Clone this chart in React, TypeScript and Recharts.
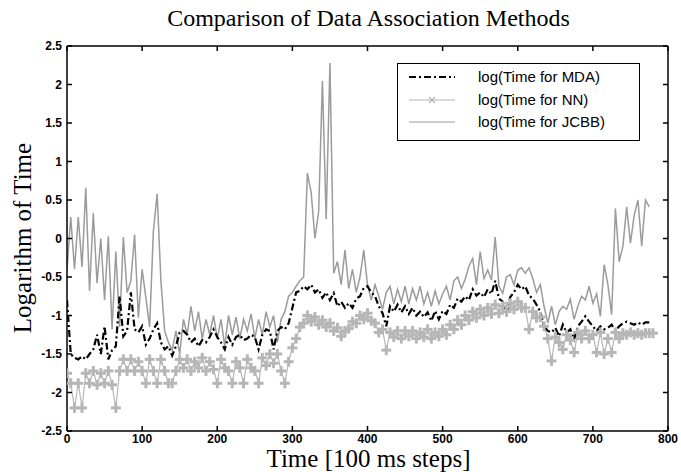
import React from 'react';
import { LineChart, Line, XAxis, YAxis } from 'recharts';

// time steps (100 ms each), sampled every 5 steps
const steps: number[] = [
  0, 5, 10, 15, 20, 25, 30, 35, 40, 45, 50, 55, 60, 65, 70, 75, 80, 85, 90, 95,
  100, 105, 110, 115, 120, 125, 130, 135, 140, 145, 150, 155, 160, 165, 170, 175, 180, 185, 190, 195,
  200, 205, 210, 215, 220, 225, 230, 235, 240, 245, 250, 255, 260, 265, 270, 275, 280, 285, 290, 295,
  300, 305, 310, 315, 320, 325, 330, 335, 340, 345, 350, 355, 360, 365, 370, 375, 380, 385, 390, 395,
  400, 405, 410, 415, 420, 425, 430, 435, 440, 445, 450, 455, 460, 465, 470, 475, 480, 485, 490, 495,
  500, 505, 510, 515, 520, 525, 530, 535, 540, 545, 550, 555, 560, 565, 570, 575, 580, 585, 590, 595,
  600, 605, 610, 615, 620, 625, 630, 635, 640, 645, 650, 655, 660, 665, 670, 675, 680, 685, 690, 695,
  700, 705, 710, 715, 720, 725, 730, 735, 740, 745, 750, 755, 760, 765, 770, 775, 780,
];

const logMDA: (number | null)[] = [
  -0.8, -1.5, -1.55, -1.57, -1.53, -1.57, -1.5, -1.44, -1.25, -1.5, -1.14, -1.57, -1.45, -1.4, -0.75, -1.27, -1.2, -0.7, -1.18, -1.22,
  -1.14, -1.38, -1.3, -1.18, -1.1, -1.35, -1.44, -1.4, -1.52, -1.4, -1.22, -1.2, -1.25, -1.35, -1.3, -1.4, -1.32, -1.35, -1.28, -1.18,
  -1.28, -1.35, -1.44, -1.28, -1.38, -1.28, -1.25, -1.32, -1.3, -1.25, -1.28, -1.44, -1.25, -1.18, -1.2, -1.44, -1.2, -1.15, -1.18, -1.1,
  -0.9, -0.7, -0.68, -0.62, -0.66, -0.6, -0.7, -0.66, -0.77, -0.7, -0.8, -0.71, -0.88, -0.82, -0.9, -0.84, -0.9, -0.78, -0.75, -0.64,
  -0.62, -0.7, -0.75, -0.88, -0.97, -1.14, -0.88, -0.95, -0.86, -0.96, -0.88, -0.98, -0.9, -1.0, -0.95, -1.02, -0.96, -1.07, -0.94, -1.05,
  -0.94, -0.98, -0.86, -0.9, -0.78, -0.82, -0.75, -0.8, -0.66, -0.74, -0.7, -0.76, -0.66, -0.72, -0.55, -0.78, -0.82, -0.97, -0.76, -0.7,
  -0.6, -0.66, -0.62, -0.74, -0.78, -0.86, -0.95, -1.14, -1.2, -1.22, -1.16, -1.27, -1.12, -1.22, -1.18, -1.31, -1.14, -1.08, -1.01, -1.08,
  -1.14, -1.2, -1.14, -1.18, -1.16, -1.12, -1.2, -1.14, -1.1, -1.08, -1.1, -1.12, -1.09, -1.12, -1.09, -1.09, null,
];

const logNN: number[] = [
  -1.75, -1.88, -2.2, -1.88, -2.2, -1.75, -1.88, -1.72, -1.9, -1.75, -1.88, -1.72, -1.9, -2.2, -1.72, -1.57, -1.72, -1.57, -1.72, -1.6,
  -1.72, -1.88, -1.57, -1.72, -1.88, -1.57, -1.72, -1.88, -1.88, -1.72, -1.57, -1.68, -1.57, -1.72, -1.6, -1.68, -1.55, -1.72, -1.6, -1.7,
  -1.88, -1.57, -1.68, -1.72, -1.88, -1.6, -1.68, -1.88, -1.57, -1.68, -1.72, -1.88, -1.55, -1.65, -1.5, -1.62, -1.5, -1.72, -1.88, -1.6,
  -1.42, -1.3, -1.15, -1.1, -1.0, -1.08, -1.02, -1.12, -1.06, -1.15, -1.1, -1.2, -1.16, -1.27, -1.2, -1.17, -1.08, -1.1, -1.0, -1.05,
  -0.97, -1.07, -1.1, -1.22, -1.18, -1.45, -1.22, -1.28, -1.2, -1.3, -1.2, -1.27, -1.2, -1.3, -1.22, -1.28, -1.18, -1.3, -1.22, -1.27,
  -1.18, -1.25, -1.12, -1.18, -1.06, -1.12, -1.0, -1.06, -0.95, -1.03, -0.92, -1.0, -0.9, -0.98, -0.86, -0.97, -0.88, -0.95, -0.84, -0.92,
  -0.82, -0.9, -0.9, -1.18, -0.95, -1.03, -1.02, -1.14, -1.3, -1.59, -1.28, -1.35, -1.44, -1.25, -1.32, -1.48, -1.22, -1.3, -1.2, -1.3,
  -1.25, -1.48, -1.22, -1.5, -1.3, -1.48, -1.22, -1.3, -1.23, -1.25, -1.22, -1.25, -1.23, -1.25, -1.23, -1.23, -1.23,
];

const logJCBB: (number | null)[] = [
  -0.4, 0.28, -0.4, 0.28, -0.37, 0.66, -0.68, 0.33, -0.58, 0.0, -0.8, 0.03, -1.18, -0.17, -1.15, 0.02, -0.7, -0.55, 0.05, -1.03,
  -0.4, -0.77, -1.15, 0.1, 0.58, -0.55, -1.2, -1.35, -1.45, -1.2, -1.5, -1.05, -1.25, -0.88, -1.2, -0.95, -1.3, -1.05, -1.25, -1.0,
  -1.3, -1.05, -1.4, -1.0, -1.25, -1.02, -1.3, -1.05, -1.2, -0.98, -1.3, -1.05, -1.25, -0.95, -1.15, -1.0, -1.35, -1.05, -0.95, -0.75,
  -0.7, -0.62, -0.55, -0.5, 0.85, 0.6, 0.0, 0.35, 2.05, 0.25, 2.28, -0.45, -0.3, -0.6, -0.15, -0.65, -0.4, -0.7, -0.5, -0.15,
  -0.6, -0.8, -0.6, -0.75, -0.92, -0.7, -0.62, -0.85, -0.66, -0.82, -0.62, -0.85, -0.65, -0.8, -0.62, -0.85, -0.7, -0.88, -0.68, -0.85,
  -0.72, -0.62, -0.8, -0.55, -0.5, -0.65, -0.53, -0.36, -0.26, -0.6, -0.17, -0.52, -0.41, -0.54, 0.02, -0.62, -0.71, -0.5, -0.47, -0.6,
  -0.41, -0.38, -0.45, -0.38, -0.52, -0.7, -0.6, -0.88, -1.1, -0.88, -1.12, -0.95, -0.88, -0.92, -0.79, -1.05, -0.88, -0.75, -0.8, -0.62,
  -0.84, -0.72, -1.01, -0.34, -0.6, -0.99, 0.39, -0.3, -0.1, 0.41, -0.06, 0.3, 0.5, -0.1, 0.5, 0.41, null,
];

const xTicks = [0, 100, 200, 300, 400, 500, 600, 700, 800];
const yTicks = [-2.5, -2, -1.5, -1, -0.5, 0, 0.5, 1, 1.5, 2, 2.5];

const chartData = steps.map((x, i) => ({
  x,
  mda: logMDA[i],
  nn: logNN[i],
  jcbb: logJCBB[i],
}));

const serif = '"Liberation Serif", "Times New Roman", serif';
const sans = '"Liberation Sans", Arial, sans-serif';

const TickBottom = (props: any) => {
  const { x, y, payload } = props;
  return (
    <g>
      <line x1={x} y1={y} x2={x} y2={y - 5} stroke="#000" strokeWidth={1.5} />
      <text x={x} y={y + 12} textAnchor="middle" fontFamily={sans} fontWeight="bold" fontSize={12} fill="#000">
        {payload.value}
      </text>
    </g>
  );
};

const TickTop = (props: any) => {
  const { x, y } = props;
  return <line x1={x} y1={y} x2={x} y2={y + 5} stroke="#000" strokeWidth={1.5} />;
};

const TickLeft = (props: any) => {
  const { x, y, payload } = props;
  return (
    <g>
      <line x1={x} y1={y} x2={x + 5} y2={y} stroke="#000" strokeWidth={1.5} />
      <text x={x - 5} y={y + 4} textAnchor="end" fontFamily={sans} fontWeight="bold" fontSize={12} fill="#000">
        {payload.value}
      </text>
    </g>
  );
};

const TickRight = (props: any) => {
  const { x, y } = props;
  return <line x1={x} y1={y} x2={x - 5} y2={y} stroke="#000" strokeWidth={1.5} />;
};

// NN samples are drawn with thick plus markers
const PlusDot = (props: any) => {
  const { cx, cy, index } = props;
  if (cx == null || cy == null) return null;
  return (
    <g key={`nn-${index}`}>
      <line x1={cx - 5} y1={cy} x2={cx + 5} y2={cy} stroke="#b6b6b6" strokeWidth={3} />
      <line x1={cx} y1={cy - 5} x2={cx} y2={cy + 5} stroke="#b6b6b6" strokeWidth={3} />
    </g>
  );
};

const legendRows = [
  { label: 'log(Time for MDA)', kind: 'mda' },
  { label: 'log(Time for NN)', kind: 'nn' },
  { label: 'log(Time for JCBB)', kind: 'jcbb' },
];

function LegendBox() {
  return (
    <div
      style={{
        position: 'absolute',
        left: 397,
        top: 63,
        width: 243,
        height: 78,
        border: '1.5px solid #000',
        background: '#fff',
        boxSizing: 'border-box',
      }}
    >
      {legendRows.map((r, i) => (
        <div key={r.kind} style={{ position: 'absolute', left: 0, top: 3 + i * 22.5, height: 20, width: '100%' }}>
          <svg width={60} height={20} style={{ position: 'absolute', left: 9, top: 0 }}>
            {r.kind === 'mda' && (
              <line x1={2} y1={10} x2={48} y2={10} stroke="#000" strokeWidth={2} strokeDasharray="7 3 2 3" />
            )}
            {r.kind === 'nn' && (
              <g>
                <line x1={2} y1={10} x2={48} y2={10} stroke="#b4b4b4" strokeWidth={1.2} />
                <line x1={22} y1={7} x2={28} y2={13} stroke="#b4b4b4" strokeWidth={1.2} />
                <line x1={22} y1={13} x2={28} y2={7} stroke="#b4b4b4" strokeWidth={1.2} />
              </g>
            )}
            {r.kind === 'jcbb' && <line x1={2} y1={10} x2={48} y2={10} stroke="#9b9b9b" strokeWidth={1.2} />}
          </svg>
          <span
            style={{
              position: 'absolute',
              left: 80,
              top: 0,
              fontFamily: sans,
              fontSize: 15,
              lineHeight: '20px',
              color: '#000',
              whiteSpace: 'nowrap',
            }}
          >
            {r.label}
          </span>
        </div>
      ))}
    </div>
  );
}

export default function App() {
  return (
    <div style={{ position: 'absolute', left: 0, top: 0, width: 681, height: 472, background: '#fff' }}>
      <div
        style={{
          position: 'absolute',
          left: 68,
          width: 601,
          top: 5,
          textAlign: 'center',
          fontFamily: serif,
          fontSize: 24,
          lineHeight: '26px',
          color: '#000',
        }}
      >
        Comparison of Data Association Methods
      </div>
      <LineChart width={681} height={472} data={chartData} margin={{ top: 45, right: 12, bottom: 40, left: 66 }}>
        <XAxis
          dataKey="x"
          type="number"
          domain={[0, 800]}
          ticks={xTicks}
          allowDataOverflow
          height={1}
          tickSize={0}
          tickMargin={0}
          tickLine={false}
          axisLine={{ stroke: '#000', strokeWidth: 1.5 }}
          tick={<TickBottom />}
          interval={0}
        />
        <XAxis
          xAxisId="top"
          orientation="top"
          dataKey="x"
          type="number"
          domain={[0, 800]}
          ticks={xTicks}
          allowDataOverflow
          height={1}
          tickSize={0}
          tickMargin={0}
          tickLine={false}
          axisLine={{ stroke: '#000', strokeWidth: 1.5 }}
          tick={<TickTop />}
          interval={0}
        />
        <YAxis
          type="number"
          domain={[-2.5, 2.5]}
          ticks={yTicks}
          allowDataOverflow
          width={1}
          tickSize={0}
          tickMargin={0}
          tickLine={false}
          axisLine={{ stroke: '#000', strokeWidth: 1.5 }}
          tick={<TickLeft />}
          interval={0}
        />
        <YAxis
          yAxisId="right"
          orientation="right"
          type="number"
          domain={[-2.5, 2.5]}
          ticks={yTicks}
          allowDataOverflow
          width={1}
          tickSize={0}
          tickMargin={0}
          tickLine={false}
          axisLine={{ stroke: '#000', strokeWidth: 1.5 }}
          tick={<TickRight />}
          interval={0}
        />
        <Line
          dataKey="nn"
          stroke="#b6b6b6"
          strokeWidth={1.2}
          dot={<PlusDot />}
          isAnimationActive={false}
          connectNulls={false}
        />
        <Line dataKey="jcbb" stroke="#9b9b9b" strokeWidth={1.5} dot={false} isAnimationActive={false} />
        <Line
          dataKey="mda"
          stroke="#000"
          strokeWidth={2.2}
          strokeDasharray="7 3 2 3"
          dot={false}
          isAnimationActive={false}
        />
      </LineChart>
      <div
        style={{
          position: 'absolute',
          left: -82,
          top: 225,
          width: 210,
          textAlign: 'center',
          transform: 'rotate(-90deg)',
          fontFamily: serif,
          fontSize: 25,
          lineHeight: '26px',
          color: '#000',
        }}
      >
        Logarithm of Time
      </div>
      <div
        style={{
          position: 'absolute',
          left: 68,
          width: 601,
          top: 447,
          textAlign: 'center',
          fontFamily: serif,
          fontSize: 25,
          lineHeight: '24px',
          color: '#000',
        }}
      >
        Time [100 ms steps]
      </div>
      <LegendBox />
    </div>
  );
}
